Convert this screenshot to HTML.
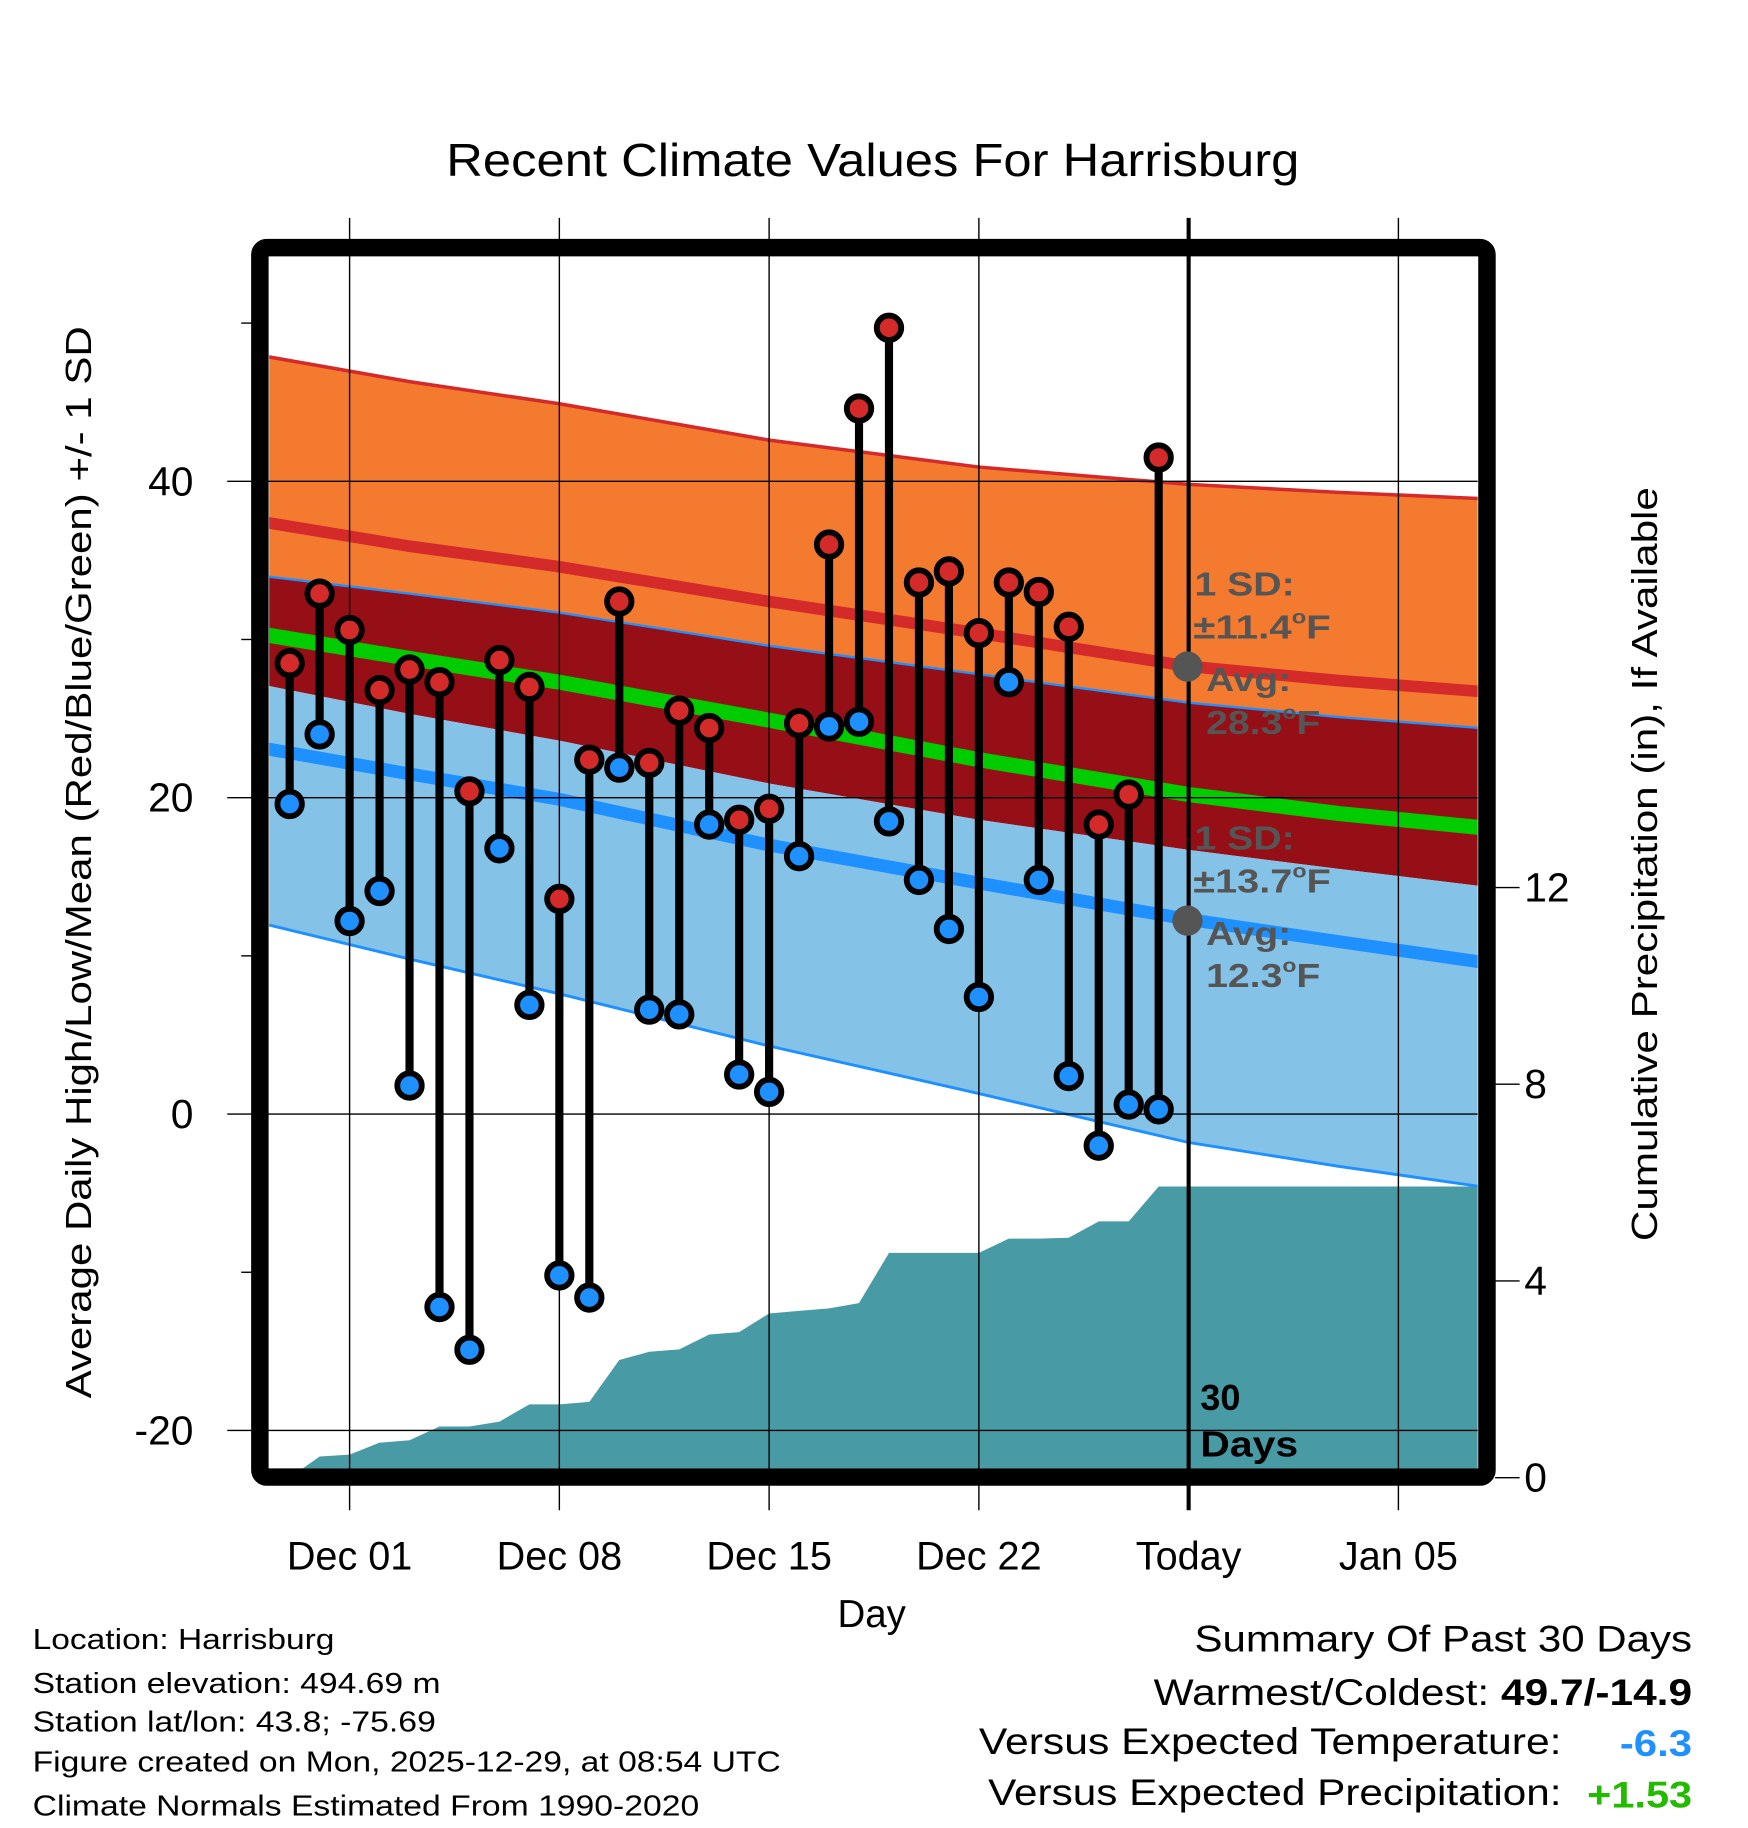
<!DOCTYPE html>
<html><head><meta charset="utf-8">
<style>
html,body{margin:0;padding:0;background:#fff;}
svg{display:block;font-family:"Liberation Sans",sans-serif;}
</style></head>
<body>
<svg id="chart" width="1748" height="1828" viewBox="0 0 1500 1568.65" xmlns="http://www.w3.org/2000/svg">
<defs><clipPath id="plotclip"><rect x="231" y="220" width="1037" height="1040"/></clipPath></defs>
<rect x="0" y="0" width="1500" height="1569" fill="#fff"/>
<text x="383" y="151" font-size="40" textLength="732" lengthAdjust="spacingAndGlyphs">Recent Climate Values For Harrisburg</text>
<g id="bands" clip-path="url(#plotclip)"></g>
<g id="grid"></g>
<g id="marks"></g>
<g id="annot" font-weight="bold" font-size="29" fill="#555">
<text x="1025" y="511" textLength="86" lengthAdjust="spacingAndGlyphs">1 SD:</text>
<text x="1024" y="548" textLength="118" lengthAdjust="spacingAndGlyphs">±11.4<tspan font-size="17" dy="-13">o</tspan><tspan dy="13">F</tspan></text>
<circle cx="1019" cy="572" r="13" fill="#555"/>
<text x="1035" y="593" textLength="73" lengthAdjust="spacingAndGlyphs">Avg:</text>
<text x="1035" y="630" textLength="98" lengthAdjust="spacingAndGlyphs">28.3<tspan font-size="17" dy="-13">o</tspan><tspan dy="13">F</tspan></text>
<text x="1025" y="729" textLength="86" lengthAdjust="spacingAndGlyphs">1 SD:</text>
<text x="1024" y="766" textLength="118" lengthAdjust="spacingAndGlyphs">±13.7<tspan font-size="17" dy="-13">o</tspan><tspan dy="13">F</tspan></text>
<circle cx="1019" cy="790" r="13" fill="#555"/>
<text x="1035" y="811" textLength="73" lengthAdjust="spacingAndGlyphs">Avg:</text>
<text x="1035" y="847" textLength="98" lengthAdjust="spacingAndGlyphs">12.3<tspan font-size="17" dy="-13">o</tspan><tspan dy="13">F</tspan></text>
</g>
<text x="1030" y="1210" font-size="31" font-weight="bold">30</text>
<text x="1030" y="1250" font-size="31" font-weight="bold" textLength="84" lengthAdjust="spacingAndGlyphs">Days</text>
<rect x="223" y="212.5" width="1053" height="1055" rx="6" fill="none" stroke="#000" stroke-width="15"/>
<text transform="translate(78,1200) rotate(-90)" font-size="31" textLength="920" lengthAdjust="spacingAndGlyphs">Average Daily High/Low/Mean (Red/Blue/Green) +/- 1 SD</text>
<text transform="translate(1422,1065) rotate(-90)" font-size="31" textLength="647" lengthAdjust="spacingAndGlyphs">Cumulative Precipitation (in), If Available</text>
<text x="748" y="1396" font-size="33" text-anchor="middle">Day</text>
<g font-size="25">
<text x="28" y="1415" textLength="259" lengthAdjust="spacingAndGlyphs">Location: Harrisburg</text>
<text x="28" y="1453" textLength="350" lengthAdjust="spacingAndGlyphs">Station elevation: 494.69 m</text>
<text x="28" y="1486" textLength="346" lengthAdjust="spacingAndGlyphs">Station lat/lon: 43.8; -75.69</text>
<text x="28" y="1520" textLength="642" lengthAdjust="spacingAndGlyphs">Figure created on Mon, 2025-12-29, at 08:54 UTC</text>
<text x="28" y="1558" textLength="572" lengthAdjust="spacingAndGlyphs">Climate Normals Estimated From 1990-2020</text>
</g>
<g font-size="32">
<text x="1025" y="1417" textLength="427" lengthAdjust="spacingAndGlyphs">Summary Of Past 30 Days</text>
<text x="990" y="1463" textLength="462" lengthAdjust="spacingAndGlyphs">Warmest/Coldest: <tspan font-weight="bold">49.7/-14.9</tspan></text>
<text x="840" y="1505" textLength="500" lengthAdjust="spacingAndGlyphs">Versus Expected Temperature:</text>
<text x="1390" y="1507" font-weight="bold" fill="#1e90ff" textLength="62" lengthAdjust="spacingAndGlyphs">-6.3</text>
<text x="848" y="1549" textLength="492" lengthAdjust="spacingAndGlyphs">Versus Expected Precipitation:</text>
<text x="1362" y="1551" font-weight="bold" fill="#22bb00" textLength="90" lengthAdjust="spacingAndGlyphs">+1.53</text>
</g>
</svg>
<script>
// day index 0 = Dec 01
const dataDays = [-2,-1,0,1,2,3,4,5,6,7,8,9,10,11,12,13,14,15,16,17,18,19,20,21,22,23,24,25,26,27];
const highs = [28.5,32.9,30.6,26.8,28.1,27.3,20.4,28.7,27.0,13.6,22.4,32.4,22.2,25.5,24.4,18.6,19.3,24.7,36.0,44.6,49.7,33.6,34.3,30.4,33.6,33.0,30.8,18.3,20.2,41.5];
const lows = [19.6,24.0,12.2,14.1,1.8,-12.2,-14.9,16.8,6.9,-10.2,-11.6,21.9,6.6,6.3,18.3,2.5,1.4,16.3,24.5,24.8,18.5,14.8,11.7,7.4,27.3,14.8,2.4,-2.0,0.6,0.3];
const precip = [0,0.43,0.47,0.71,0.76,1.04,1.04,1.14,1.49,1.49,1.54,2.39,2.56,2.61,2.91,2.96,3.34,3.39,3.44,3.55,4.57,4.57,4.57,4.57,4.86,4.86,4.88,5.21,5.21,5.92];
const normDays = [-2.8,2,7,14,21,28,33,37.8];
const highPlusSD = [47.9,46.3,44.9,42.6,40.9,39.8,39.3,38.9];
const highMean = [37.4,35.9,34.6,32.4,30.4,28.3,27.4,26.7];
const highMinusSD = [34.0,32.9,31.7,29.6,27.8,26.0,25.1,24.4];
const meanNorm = [30.3,28.8,27.3,24.9,22.4,20.2,19.0,18.1];
const lowPlusSD = [27.1,25.3,23.6,20.9,18.6,16.7,15.5,14.4];
const lowMean = [23.1,21.5,19.9,17.0,14.6,12.3,10.9,9.6];
const lowMinusSD = [12.0,9.8,7.6,4.3,1.3,-1.8,-3.3,-4.6];
const xTickDays = [0,7,14,21,28,35];
const xTickLabels = ["Dec 01","Dec 08","Dec 15","Dec 22","Today","Jan 05"];
const yTicks = [40,20,0,-20];
const yMinorTicks = [50,30,10,-10];
const y2Ticks = [0,4,8,12];

const X = d => 300 + d*180/7;
const Y = v => 956 - v*13.575;
const Y2 = p => 1268 - p*42.2;
const NS = "http://www.w3.org/2000/svg";
function mk(parent, tag, attrs){const e=document.createElementNS(NS,tag);for(const k in attrs)e.setAttribute(k,attrs[k]);parent.appendChild(e);return e;}
function pts(days, vals, fy){return days.map((d,i)=>X(d).toFixed(1)+","+fy(vals[i]).toFixed(1));}
function band(a,b){const top=pts(normDays,a,Y), bot=pts(normDays,b,Y).reverse();return top.concat(bot).join(" ");}

const bands=document.getElementById("bands");
let e;
e=mk(bands,"polygon",{points:band(highPlusSD,highMinusSD),fill:"#f47a30"});


e=mk(bands,"polygon",{points:band(highMinusSD,lowPlusSD),fill:"#960f16"});


e=mk(bands,"polygon",{points:band(lowPlusSD,lowMinusSD),fill:"#84c2e7"});


const pp=[X(dataDays[0]).toFixed(1)+","+Y2(0)].concat(pts(dataDays,precip,Y2));
pp.push("1270,"+Y2(precip[precip.length-1]).toFixed(1));pp.push("1270,1270");
e=mk(bands,"polygon",{points:pp.join(" "),fill:"#489ba5"});


const lines=[[highPlusSD,"#d42a2a",3,'high-plus-sd-line'],[highMinusSD,"#1e90ff",2,'high-minus-sd-line'],[lowMinusSD,"#1e90ff",2.5,'low-minus-sd-line'],[highMean,"#d42a2a",10,'high-mean-line'],[meanNorm,"#00cc00",13,'mean-line'],[lowMean,"#1e90ff",11,'low-mean-line']];
lines.forEach(l=>{
 e=mk(bands,"polyline",{points:pts(normDays,l[0],Y).join(" "),fill:"none",stroke:l[1],"stroke-width":l[2]});
 
 
});

const grid=document.getElementById("grid");
xTickDays.forEach((d,i)=>{
 e=mk(grid,"line",{x1:X(d),x2:X(d),y1:187,y2:1296,stroke:"#000","stroke-width":i==4?3.5:1.2});
 
 
 const t=mk(grid,"text",{x:X(d),y:1347,"font-size":34,"text-anchor":"middle"});t.textContent=xTickLabels[i];
 
 
});
yTicks.forEach(v=>{
 e=mk(grid,"line",{x1:195,x2:1268,y1:Y(v),y2:Y(v),stroke:"#000","stroke-width":1.2});
 
 
 const t=mk(grid,"text",{x:166,y:Y(v)+12,"font-size":35,"text-anchor":"end"});t.textContent=v;
 
 
});
yMinorTicks.forEach(v=>{
 e=mk(grid,"line",{x1:207,x2:218,y1:Y(v),y2:Y(v),stroke:"#000","stroke-width":1.2});
 
 
});
y2Ticks.forEach(v=>{
 e=mk(grid,"line",{x1:1283,x2:1304,y1:Y2(v),y2:Y2(v),stroke:"#000","stroke-width":1.2});
 
 
 const t=mk(grid,"text",{x:1308,y:Y2(v)+12,"font-size":35});t.textContent=v;
 
 
});

const marks=document.getElementById("marks");
dataDays.forEach((d,i)=>{
 const x=X(d);
 e=mk(marks,"line",{x1:x,x2:x,y1:Y(highs[i]),y2:Y(lows[i]),stroke:"#000","stroke-width":7});
 
 
});
dataDays.forEach((d,i)=>{
 const x=X(d);
 e=mk(marks,"circle",{cx:x,cy:Y(lows[i]),r:10.5,fill:"#1e90ff",stroke:"#000","stroke-width":5});
 
 
 e=mk(marks,"circle",{cx:x,cy:Y(highs[i]),r:10.5,fill:"#d42a2a",stroke:"#000","stroke-width":5});
 
 
});
</script>
</body></html>
